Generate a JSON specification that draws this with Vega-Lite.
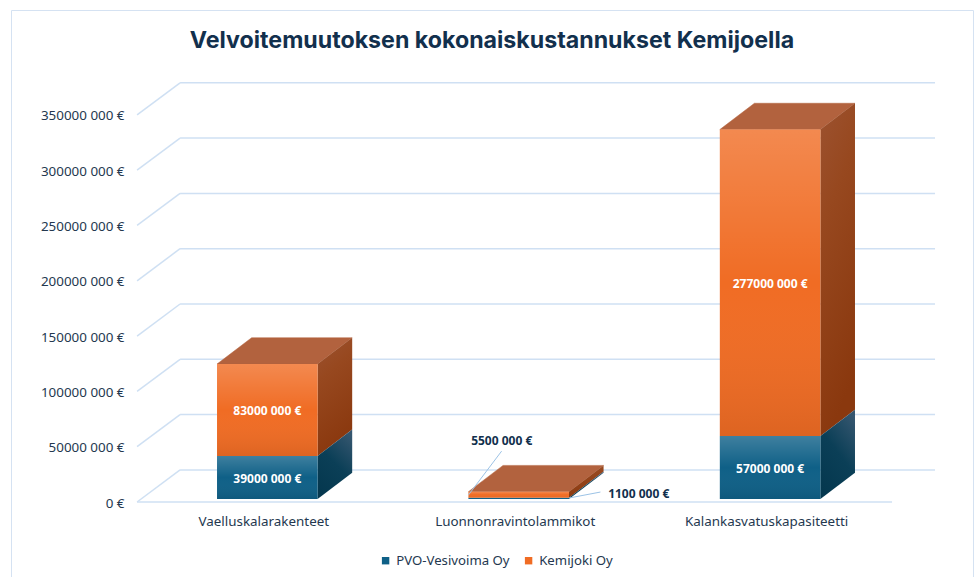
{
"$schema":"https://vega.github.io/schema/vega-lite/v6.json",
"width":962,"height":568,
"autosize":{"type":"none"},
"padding":{"left":11,"top":10,"right":1,"bottom":-1},
"background":"white",
"config":{"view":{"stroke":"#D5E2F2","strokeWidth":1},"font":"Noto Sans"},
"title":{"text":"Velvoitemuutoksen kokonaiskustannukset Kemijoella","anchor":"middle","frame":"group","orient":"top","offset":-43,"fontSize":23.2,"fontWeight":"bold","font":"Inter","color":"#12304D"},
"datasets":{
"bars":[
{"kohde":"Vaelluskalarakenteet","kohta":0,"yhtio":"PVO-Vesivoima Oy","arvo":39000000},
{"kohde":"Vaelluskalarakenteet","kohta":0,"yhtio":"Kemijoki Oy","arvo":83000000},
{"kohde":"Luonnonravintolammikot","kohta":1,"yhtio":"PVO-Vesivoima Oy","arvo":1100000},
{"kohde":"Luonnonravintolammikot","kohta":1,"yhtio":"Kemijoki Oy","arvo":5500000},
{"kohde":"Kalankasvatuskapasiteetti","kohta":2,"yhtio":"PVO-Vesivoima Oy","arvo":57000000},
{"kohde":"Kalankasvatuskapasiteetti","kohta":2,"yhtio":"Kemijoki Oy","arvo":277000000}
],
"ticks":[{"t":0},{"t":50000000},{"t":100000000},{"t":150000000},{"t":200000000},{"t":250000000},{"t":300000000},{"t":350000000}]
},
"encoding":{
"x":{"field":"px","type":"quantitative","scale":{"domain":[-1.0195,2.807],"nice":false,"zero":false},
"axis":{"values":[0,1,2],"title":null,"orient":"bottom","offset":-64,"domain":false,"ticks":false,"grid":false,"labelPadding":0,"labelOffset":-4,"labelFontSize":13.4,"labelColor":"#24384F","labelFont":"Noto Sans","labelOverlap":false,"labelExpr":"datum.value==0?'Vaelluskalarakenteet':datum.value==1?'Luonnonravintolammikot':'Kalankasvatuskapasiteetti'"}},
"y":{"field":"py","type":"quantitative","scale":{"domain":[-68700000,444800000],"nice":false,"zero":false},
"axis":{"values":[0,50000000,100000000,150000000,200000000,250000000,300000000,350000000],"title":null,"orient":"left","offset":-113,"domain":false,"ticks":false,"grid":false,"labelPadding":0,"labelOffset":1,"labelFontSize":13.4,"labelColor":"#24384F","labelFont":"Noto Sans","labelExpr":"datum.value==0?'0 €':format(datum.value/1000000,'d')+'000 000 €'"}}
},
"layer":[
{"data":{"name":"ticks"},
 "transform":[{"calculate":"-0.347","as":"px"},{"calculate":"2.656","as":"px2"},{"calculate":"datum.t+29000000","as":"py"}],
 "mark":{"type":"rule","stroke":"#CFE0F3","strokeWidth":1.5},
 "encoding":{"x2":{"field":"px2"}}},
{"data":{"name":"ticks"},
 "transform":[{"calculate":"-0.518","as":"px"},{"calculate":"-0.347","as":"px2"},{"calculate":"datum.t","as":"py"},{"calculate":"datum.t+29000000","as":"py2"}],
 "mark":{"type":"rule","stroke":"#CFE0F3","strokeWidth":1.5},
 "encoding":{"x2":{"field":"px2"},"y2":{"field":"py2"}}},
{"data":{"name":"ticks"},
 "transform":[{"filter":"datum.t==0"},{"calculate":"-0.518","as":"px"},{"calculate":"2.485","as":"px2"},{"calculate":"0","as":"py"}],
 "mark":{"type":"rule","stroke":"#CFE0F3","strokeWidth":1.5},
 "encoding":{"x2":{"field":"px2"}}},

{"data":{"name":"bars"},
 "transform":[{"stack":"arvo","groupby":["kohde"],"sort":[{"field":"yhtio","order":"descending"}],"as":["a","b"]},
  {"filter":"datum.yhtio=='Kemijoki Oy'"},
  {"calculate":"[0,1,2,3]","as":"v"},{"flatten":["v"]},
  {"calculate":"datum.kohta-0.2+[0,0.1376,0.4,0.5376][datum.v]","as":"px"},
  {"calculate":"datum.b+2700000+[0,0,0,23800000][datum.v]","as":"py"},
  {"calculate":"datum.b+2700000+[0,23800000,23800000,23800000][datum.v]","as":"py2"}],
 "mark":{"type":"area","orient":"vertical","fill":"#B2623E","stroke":"#B2623E","strokeWidth":0.5},
 "encoding":{"y2":{"field":"py2"},"detail":{"field":"kohde"}}},

{"data":{"name":"bars"},
 "transform":[{"stack":"arvo","groupby":["kohde"],"sort":[{"field":"yhtio","order":"descending"}],"as":["a","b"]},
  {"filter":"datum.yhtio=='Kemijoki Oy'"},
  {"calculate":"[0,1]","as":"v"},{"flatten":["v"]},
  {"calculate":"datum.kohta+0.2+datum.v*0.1376","as":"px"},
  {"calculate":"datum.a+2700000+datum.v*23800000","as":"py"},
  {"calculate":"datum.b+2700000+datum.v*23800000","as":"py2"}],
 "mark":{"type":"area","orient":"vertical","fill":{"gradient":"linear","x1":0,"y1":0,"x2":0.25,"y2":1,"stops":[{"offset":0,"color":"#9C5230"},{"offset":0.35,"color":"#97481F"},{"offset":1,"color":"#8A380E"}]}},
 "encoding":{"y2":{"field":"py2"},"detail":{"field":"kohde"}}},

{"data":{"name":"bars"},
 "transform":[{"stack":"arvo","groupby":["kohde"],"sort":[{"field":"yhtio","order":"descending"}],"as":["a","b"]},
  {"filter":"datum.yhtio=='PVO-Vesivoima Oy'"},
  {"calculate":"[0,1]","as":"v"},{"flatten":["v"]},
  {"calculate":"datum.kohta+0.2+datum.v*0.1376","as":"px"},
  {"calculate":"datum.a+2700000+datum.v*23800000","as":"py"},
  {"calculate":"datum.b+2700000+datum.v*23800000","as":"py2"}],
 "mark":{"type":"area","orient":"vertical","fill":{"gradient":"linear","x1":0.8,"y1":0,"x2":0.3,"y2":1,"stops":[{"offset":0,"color":"#35566F"},{"offset":0.5,"color":"#0B3F57"},{"offset":1,"color":"#05384F"}]}},
 "encoding":{"y2":{"field":"py2"},"detail":{"field":"kohde"}}},

{"data":{"name":"bars"},
 "transform":[{"stack":"arvo","groupby":["kohde"],"sort":[{"field":"yhtio","order":"descending"}],"as":["a","b"]},
  {"calculate":"datum.kohta-0.2","as":"px"},{"calculate":"datum.kohta+0.2","as":"px2"},
  {"calculate":"datum.a+2700000","as":"py"},{"calculate":"datum.b+2700000","as":"py2"}],
 "mark":{"type":"rect"},
 "encoding":{"x2":{"field":"px2"},"y2":{"field":"py2"},
  "color":{"field":"yhtio","type":"nominal","sort":["PVO-Vesivoima Oy","Kemijoki Oy"],
   "scale":{"domain":["PVO-Vesivoima Oy","Kemijoki Oy"],"range":["#0F6087","#F06C24"]},
   "legend":{"title":null,"orient":"none","direction":"horizontal","legendX":368,"legendY":544,"symbolType":"square","symbolSize":55,"symbolStrokeWidth":0,"labelFontSize":13.2,"labelColor":"#24384F","labelFont":"Noto Sans","columnPadding":12,"labelOffset":4}}}},

{"data":{"name":"bars"},
 "transform":[{"stack":"arvo","groupby":["kohde"],"sort":[{"field":"yhtio","order":"descending"}],"as":["a","b"]},
  {"calculate":"datum.kohta-0.2","as":"px"},{"calculate":"datum.kohta+0.2","as":"px2"},
  {"calculate":"datum.a+2700000","as":"py"},{"calculate":"datum.b+2700000","as":"py2"}],
 "mark":{"type":"rect","fill":{"gradient":"linear","x1":0,"y1":0,"x2":0,"y2":1,"stops":[{"offset":0,"color":"rgba(255,255,255,0.2)"},{"offset":0.5,"color":"rgba(255,255,255,0)"},{"offset":1,"color":"rgba(0,0,0,0.08)"}]}},
 "encoding":{"x2":{"field":"px2"},"y2":{"field":"py2"}}},

{"data":{"name":"bars"},
 "transform":[{"stack":"arvo","groupby":["kohde"],"sort":[{"field":"yhtio","order":"descending"}],"as":["a","b"]},
  {"filter":"datum.kohta!=1"},
  {"calculate":"datum.kohta","as":"px"},
  {"calculate":"(datum.a+datum.b)/2+2700000","as":"py"},
  {"calculate":"format(floor(datum.arvo/1000),'d')+' 000 €'","as":"nimi"}],
 "mark":{"type":"text","color":"white","fontWeight":"bold","fontSize":12,"font":"Noto Sans","dy":1.5},
 "encoding":{"text":{"field":"nimi"}}},

{"data":{"name":"bars"},
 "transform":[{"filter":"datum.kohta==1 && datum.yhtio=='Kemijoki Oy'"},
  {"calculate":"0.932","as":"px"},{"calculate":"6300000","as":"py0"},
  {"calculate":"datum.py0","as":"py"},{"calculate":"46000000","as":"py2"},{"calculate":"0.8","as":"px2"},
  {"calculate":"0.932","as":"pxe"}],
 "mark":{"type":"rule","stroke":"#9CC3E6","strokeWidth":1},
 "encoding":{"x":{"field":"px2","type":"quantitative"},"x2":{"field":"pxe"},"y2":{"field":"py2"}}},
{"data":{"name":"bars"},
 "transform":[{"filter":"datum.kohta==1 && datum.yhtio=='PVO-Vesivoima Oy'"},
  {"calculate":"1.2","as":"px"},{"calculate":"1.325","as":"px2"},{"calculate":"3600000","as":"py"},{"calculate":"9000000","as":"py2"}],
 "mark":{"type":"rule","stroke":"#9CC3E6","strokeWidth":1},
 "encoding":{"x2":{"field":"px2"},"y2":{"field":"py2"}}},
{"data":{"name":"bars"},
 "transform":[{"filter":"datum.kohta==1"},
  {"calculate":"datum.kohta","as":"px"},{"calculate":"0","as":"py"},
  {"calculate":"format(floor(datum.arvo/1000),'d')+' 000 €'","as":"nimi"},{"filter":"datum.yhtio=='Kemijoki Oy'"}],
 "mark":{"type":"text","color":"#12304D","fontWeight":"bold","fontSize":12,"font":"Noto Sans","dx":-17,"dy":-61},
 "encoding":{"text":{"field":"nimi"}}},
{"data":{"name":"bars"},
 "transform":[{"filter":"datum.kohta==1 && datum.yhtio=='PVO-Vesivoima Oy'"},
  {"calculate":"datum.kohta","as":"px"},{"calculate":"0","as":"py"},
  {"calculate":"format(floor(datum.arvo/1000),'d')+' 000 €'","as":"nimi"}],
 "mark":{"type":"text","color":"#12304D","fontWeight":"bold","fontSize":12,"font":"Noto Sans","dx":120,"dy":-8},
 "encoding":{"text":{"field":"nimi"}}}
]
}
